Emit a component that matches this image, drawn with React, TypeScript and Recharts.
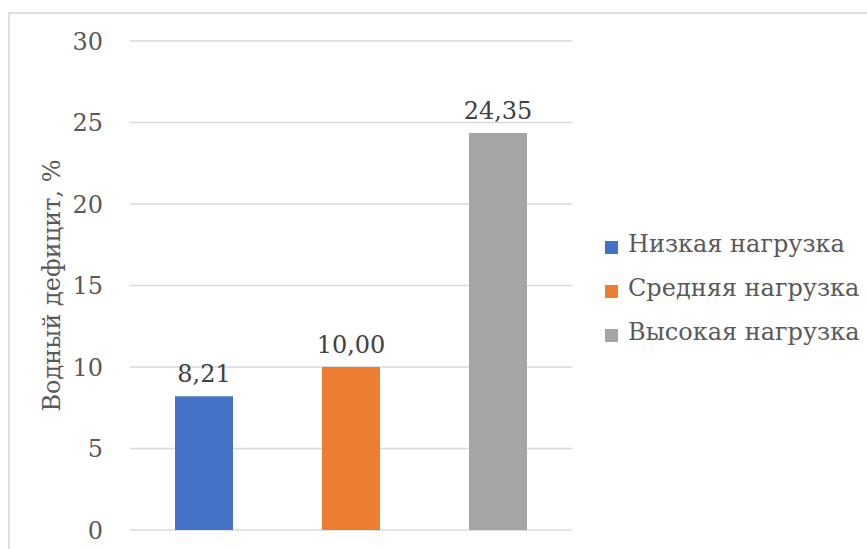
import React from 'react';
import { BarChart, Bar, XAxis, YAxis, CartesianGrid, Legend } from 'recharts';

// Load levels and their water deficit values (%)
const seriesNames = ['Низкая нагрузка', 'Средняя нагрузка', 'Высокая нагрузка'];
const seriesKeys = ['low', 'mid', 'high'];
const seriesValues = [8.21, 10.0, 24.35];
const seriesColors = ['#4472C4', '#ED7D31', '#A5A5A5'];
const yTicks = [0, 5, 10, 15, 20, 25, 30];
const yLabel = 'Водный дефицит, %';

const FONT = '"DejaVu Serif", serif';
const FS = 24;

// one category row holding the three series
const row: Record<string, number | string> = { name: '' };
seriesKeys.forEach((k, i) => {
  row[k] = seriesValues[i];
});
const data = [row];

const fmt = (v: number) => v.toFixed(2).replace('.', ',');

const YTick = (props: any) => {
  const { x, y, payload } = props;
  return (
    <text x={x} y={y + 8.8} textAnchor="end" fill="#595959" style={{ fontSize: FS, fontFamily: FONT }}>
      {payload.value}
    </text>
  );
};

const ValueLabel = (props: any) => {
  const { x, y, width, value } = props;
  return (
    <text x={x + width / 2} y={y - 14} textAnchor="middle" fill="#404040" style={{ fontSize: FS, fontFamily: FONT }}>
      {fmt(Number(value))}
    </text>
  );
};

const AxisTitle = (props: any) => {
  const { viewBox } = props;
  const cx = viewBox.x + 30;
  const cy = viewBox.y + viewBox.height / 2;
  return (
    <text
      x={cx}
      y={cy}
      transform={`rotate(-90 ${cx} ${cy})`}
      textAnchor="middle"
      fill="#595959"
      style={{ fontSize: FS, fontFamily: FONT }}
    >
      {yLabel}
    </text>
  );
};

const LegendBox = () => (
  <div style={{ fontSize: FS, color: '#595959', fontFamily: FONT }}>
    {seriesNames.map((n, i) => (
      <div key={n} style={{ position: 'relative', height: 44, width: 260 }}>
        <div
          style={{
            position: 'absolute',
            left: 0,
            top: 19,
            width: 13,
            height: 13,
            background: seriesColors[i],
          }}
        />
        <span style={{ position: 'absolute', left: 23, top: 0, lineHeight: '44px', whiteSpace: 'nowrap' }}>{n}</span>
      </div>
    ))}
  </div>
);

export default function App() {
  return (
    <div style={{ position: 'fixed', left: 0, top: 0, width: 867, height: 549, overflow: 'hidden', background: '#fff' }}>
      <div
        style={{
          position: 'absolute',
          left: 8,
          top: 12,
          width: 940,
          height: 640,
          border: '2px solid #dedede',
        }}
      />
      <div style={{ position: 'absolute', left: 0, top: 0 }}>
        <BarChart
          width={867}
          height={549}
          data={data}
          margin={{ top: 41, right: 35, bottom: 19, left: 30 }}
          barSize={58}
          barGap={89}
        >
          <CartesianGrid vertical={false} stroke="#d9d9d9" strokeWidth={1.5} />
          <XAxis dataKey="name" hide />
          <YAxis
            width={100}
            domain={[0, 30]}
            ticks={yTicks}
            interval={0}
            axisLine={false}
            tickLine={false}
            tickSize={0}
            tickMargin={27}
            tick={<YTick />}
            label={<AxisTitle />}
          />
          <Legend
            layout="vertical"
            align="right"
            verticalAlign="middle"
            width={260}
            content={<LegendBox />}
            wrapperStyle={{ position: 'absolute', left: 605, top: 222, width: 260 }}
          />
          {seriesKeys.map((k, i) => (
            <Bar
              key={k}
              dataKey={k}
              name={seriesNames[i]}
              fill={seriesColors[i]}
              isAnimationActive={false}
              label={<ValueLabel />}
            />
          ))}
        </BarChart>
      </div>
    </div>
  );
}
